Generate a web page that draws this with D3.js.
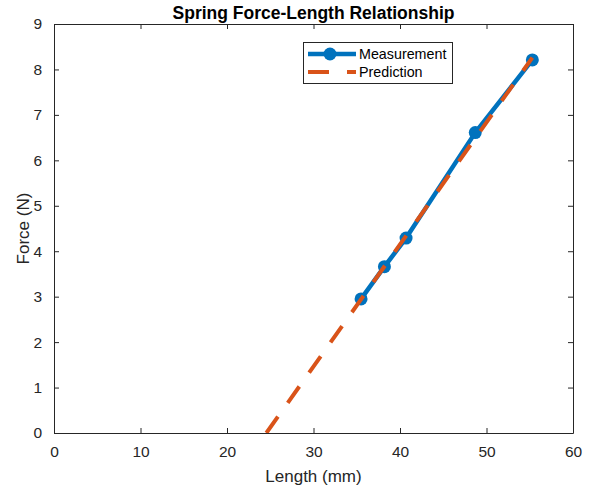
<!DOCTYPE html>
<html><head><meta charset="utf-8">
<script src="https://cdn.jsdelivr.net/npm/d3@7"></script>
<style>body{margin:0;background:#fff}svg{display:block}text{font-family:"Liberation Sans",Arial,Helvetica,sans-serif}</style>
</head><body><svg id="c" width="598" height="490"></svg>
<script>
const measLength = [35.5, 38.2, 40.7, 48.7, 55.3];
const measForce  = [2.95, 3.66, 4.29, 6.61, 8.21];
const predLength = [24.55, 55.3];
const predForce  = [0, 8.26];
const xTicks = [0,10,20,30,40,50,60];
const yTicks = [0,1,2,3,4,5,6,7,8,9];
const title = "Spring Force-Length Relationship";
const xLabel = "Length (mm)";
const yLabel = "Force (N)";
const seriesNames = ["Measurement","Prediction"];

const svg = d3.select("#c");
const L=54, R=573, T=24, B=433;
const x = d3.scaleLinear().domain([0,60]).range([L,R]);
const y = d3.scaleLinear().domain([0,9]).range([B,T]);
const axisCol="#262626";

const gx = svg.append("g").attr("transform",`translate(0,${B})`)
  .call(d3.axisBottom(x).tickValues(xTicks).tickSizeInner(-5).tickSizeOuter(0).tickPadding(13));
const gxt = svg.append("g").attr("transform",`translate(0,${T})`)
  .call(d3.axisTop(x).tickValues(xTicks).tickSizeInner(-5).tickSizeOuter(0).tickFormat(""));
const gy = svg.append("g").attr("transform",`translate(${L},0)`)
  .call(d3.axisLeft(y).tickValues(yTicks).tickSizeInner(-5).tickSizeOuter(0).tickPadding(12));
const gyr = svg.append("g").attr("transform",`translate(${R},0)`)
  .call(d3.axisRight(y).tickValues(yTicks).tickSizeInner(-5).tickSizeOuter(0).tickFormat(""));
[gx,gxt,gy,gyr].forEach(g=>{
  g.selectAll("path").attr("stroke",axisCol).attr("stroke-width",1);
  g.selectAll("line").attr("stroke",axisCol).attr("stroke-width",1);
  g.selectAll("text").attr("fill",axisCol).style("font-size","15.5px").style("font-family","'Liberation Sans',Arial,sans-serif");
});
gx.selectAll("text").attr("dy","0.71em");

svg.append("clipPath").attr("id","clip").append("rect").attr("x",L).attr("y",T).attr("width",R-L).attr("height",B-T);
const plot = svg.append("g").attr("clip-path","url(#clip)");

const line = d3.line().x(d=>x(d[0])).y(d=>y(d[1]));
const meas = measLength.map((v,i)=>[v,measForce[i]]);
const pred = predLength.map((v,i)=>[v,predForce[i]]);

plot.append("path").datum(meas).attr("d",line).attr("fill","none")
  .attr("stroke","#0072BD").attr("stroke-width",4.5).attr("stroke-linejoin","round");
plot.selectAll("circle.m").data(meas).enter().append("circle").attr("class","m")
  .attr("cx",d=>x(d[0])).attr("cy",d=>y(d[1])).attr("r",6.5).attr("fill","#0072BD");
plot.append("path").datum(pred).attr("d",line).attr("fill","none")
  .attr("stroke","#D95319").attr("stroke-width",4).attr("stroke-dasharray","20 17");

svg.append("text").attr("x",(L+R)/2).attr("y",19).attr("text-anchor","middle")
  .style("font-size","17.5px").style("font-weight","bold").attr("fill","#000").text(title);
svg.append("text").attr("x",(L+R)/2).attr("y",482).attr("text-anchor","middle")
  .style("font-size","17px").attr("fill",axisCol).text(xLabel);
svg.append("text").attr("transform",`translate(29,${(T+B)/2}) rotate(-90)`).attr("text-anchor","middle")
  .style("font-size","17px").attr("fill",axisCol).text(yLabel);

const lg = svg.append("g");
lg.append("rect").attr("x",303.5).attr("y",42.5).attr("width",149).attr("height",41)
  .attr("fill","#fff").attr("stroke",axisCol).attr("stroke-width",1);
lg.append("line").attr("x1",308).attr("x2",356).attr("y1",54).attr("y2",54)
  .attr("stroke","#0072BD").attr("stroke-width",4.5);
lg.append("circle").attr("cx",330).attr("cy",54).attr("r",6.5).attr("fill","#0072BD");
lg.append("line").attr("x1",308).attr("x2",356).attr("y1",72).attr("y2",72)
  .attr("stroke","#D95319").attr("stroke-width",4).attr("stroke-dasharray","21 18");
lg.selectAll("text.l").data(seriesNames).enter().append("text").attr("class","l")
  .attr("x",359).attr("y",(d,i)=>54+i*18).attr("dy","0.35em")
  .style("font-size","14.3px").attr("fill","#000").text(d=>d);
</script></body></html>
